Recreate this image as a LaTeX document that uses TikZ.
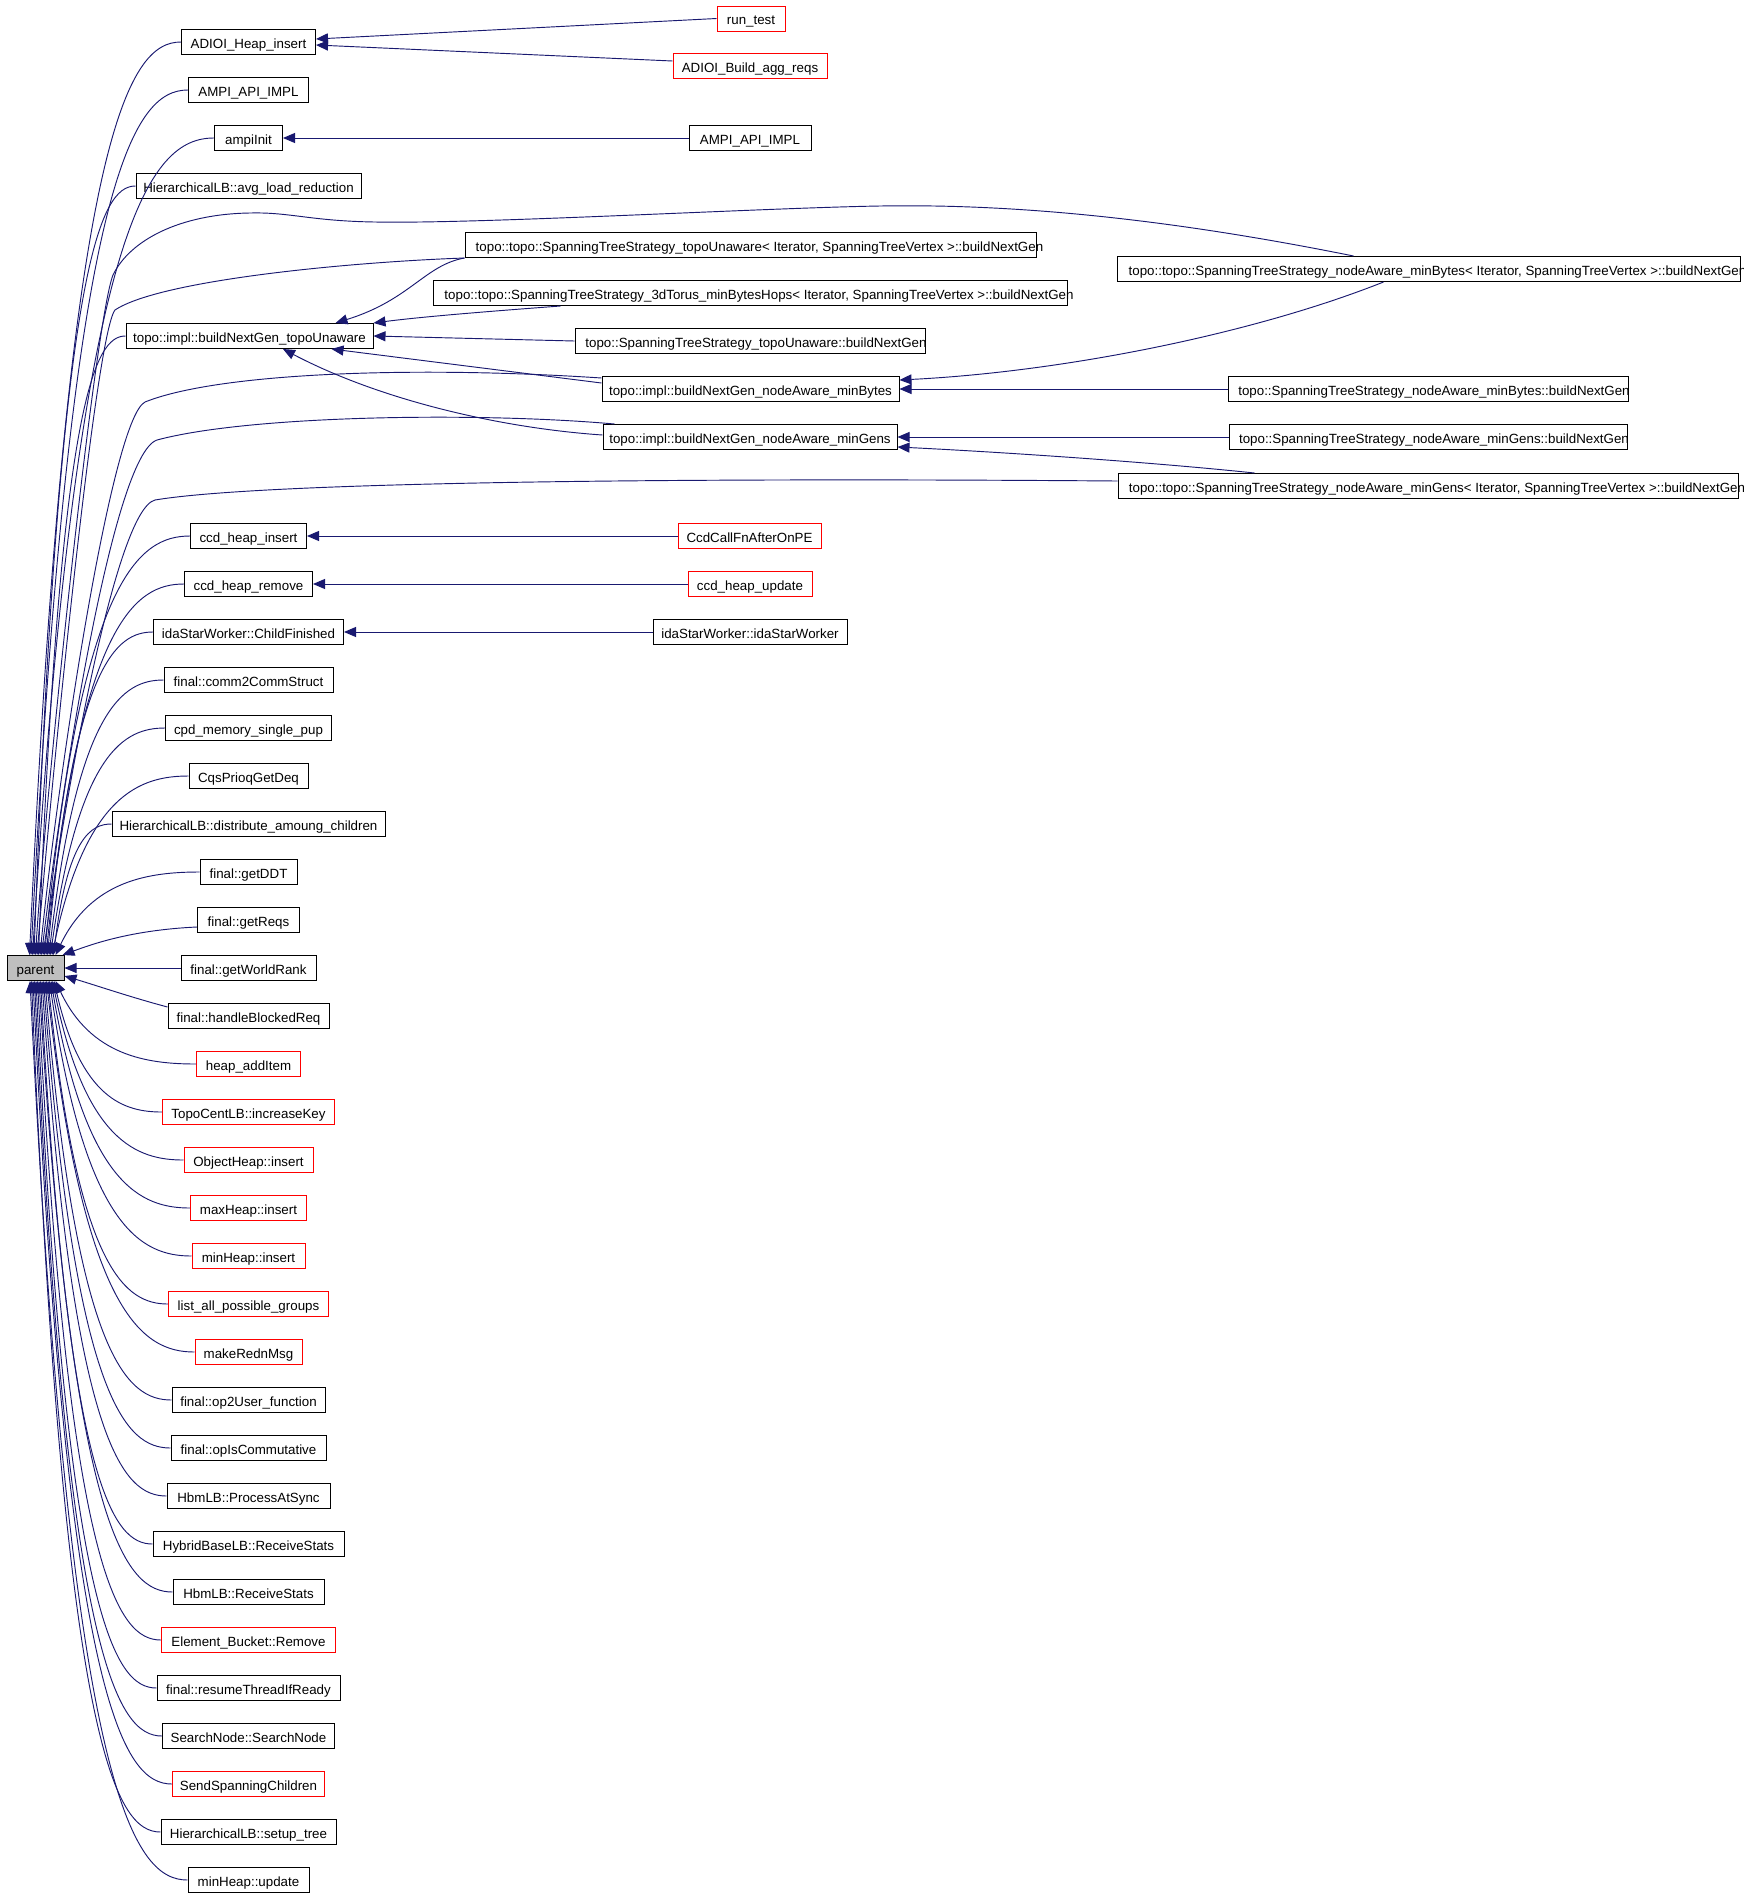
\documentclass[tikz,border=0pt]{standalone}
\usepackage{fontspec}
\setmainfont{Liberation Sans}
\usetikzlibrary{arrows.meta,calc}
\definecolor{edgeblue}{RGB}{25,25,112}
\definecolor{pgray}{RGB}{191,191,191}
\begin{document}
\begin{tikzpicture}[x=0.75pt,y=-0.75pt,
  fn/.style={draw=black, line width=0.75pt, minimum height=18.75pt, inner xsep=0pt, inner ysep=0pt, text height=9.1pt, text depth=0pt, font=\fontsize{10}{12}\selectfont},
  rn/.style={fn, draw=red},
  bw/.style={minimum width=#1*0.75pt},
  edge/.style={draw=edgeblue, line width=0.7pt, -{Triangle[length=9pt,width=7.5pt]}}]
\fill[white] (0,0) rectangle (1744,1896);
\useasboundingbox (0,0) rectangle (1744,1896);
% parent
\node[fn,bw=57,fill=pgray] (parent) at (35.5,968) {parent};
% left column
\node[fn,bw=134] (adh) at (248.5,42) {ADIOI\_Heap\_insert};
\node[fn,bw=120] (amp1) at (248.5,90) {AMPI\_API\_IMPL};
\node[fn,bw=68] (ampi) at (248.5,138) {ampiInit};
\node[fn,bw=225] (avg) at (248.5,186) {HierarchicalLB::avg\_load\_reduction};
\node[fn,bw=247] (tu) at (249.5,336) {topo::impl::buildNextGen\_topoUnaware};
\node[fn,bw=116] (chi) at (248.5,536) {ccd\_heap\_insert};
\node[fn,bw=128] (chr) at (248.5,584) {ccd\_heap\_remove};
\node[fn,bw=190] (icf) at (248.5,632) {idaStarWorker::ChildFinished};
\node[fn,bw=169] (c2c) at (248.5,680) {final::comm2CommStruct};
\node[fn,bw=166] (cpd) at (248.5,728) {cpd\_memory\_single\_pup};
\node[fn,bw=119] (cqs) at (248.5,776) {CqsPrioqGetDeq};
\node[fn,bw=273] (dac) at (248.5,824) {HierarchicalLB::distribute\_amoung\_children};
\node[fn,bw=97] (gdd) at (248.5,872) {final::getDDT};
\node[fn,bw=102] (grq) at (248.5,920) {final::getReqs};
\node[fn,bw=135] (gwr) at (248.5,968) {final::getWorldRank};
\node[fn,bw=161] (hbr) at (248.5,1016) {final::handleBlockedReq};
\node[rn,bw=104] (hai) at (248.5,1064) {heap\_addItem};
\node[rn,bw=172] (tck) at (248.5,1112) {TopoCentLB::increaseKey};
\node[rn,bw=129] (ohi) at (248.5,1160) {ObjectHeap::insert};
\node[rn,bw=116] (mxi) at (248.5,1208) {maxHeap::insert};
\node[rn,bw=113] (mni) at (248.5,1256) {minHeap::insert};
\node[rn,bw=160] (lap) at (248.5,1304) {list\_all\_possible\_groups};
\node[rn,bw=107] (mrm) at (248.5,1352) {makeRednMsg};
\node[fn,bw=153] (o2u) at (248.5,1400) {final::op2User\_function};
\node[fn,bw=155] (oic) at (248.5,1448) {final::opIsCommutative};
\node[fn,bw=163] (pas) at (248.5,1496) {HbmLB::ProcessAtSync};
\node[fn,bw=191] (hrs) at (248.5,1544) {HybridBaseLB::ReceiveStats};
\node[fn,bw=151] (brs) at (248.5,1592) {HbmLB::ReceiveStats};
\node[rn,bw=174] (ebr) at (248.5,1640) {Element\_Bucket::Remove};
\node[fn,bw=183] (rtr) at (248.5,1688) {final::resumeThreadIfReady};
\node[fn,bw=172] (sns) at (248.5,1736) {SearchNode::SearchNode};
\node[rn,bw=152] (ssc) at (248.5,1784) {SendSpanningChildren};
\node[fn,bw=175] (stt) at (248.5,1832) {HierarchicalLB::setup\_tree};
\node[fn,bw=121] (mhu) at (248.5,1880) {minHeap::update};
% middle column
\node[rn,bw=68] (rt) at (751,18.5) {run\_test};
\node[rn,bw=154] (bar) at (750,66) {ADIOI\_Build\_agg\_reqs};
\node[fn,bw=122] (amp2) at (750,138) {AMPI\_API\_IMPL};
\node[fn,bw=571] (tut) at (750.5,245) {\makebox[0pt]{\hspace*{13.5pt}topo::topo::SpanningTreeStrategy\_topoUnaware< Iterator, SpanningTreeVertex >::buildNextGen}};
\node[fn,bw=634] (t3d) at (750,293) {\makebox[0pt]{\hspace*{13.5pt}topo::topo::SpanningTreeStrategy\_3dTorus\_minBytesHops< Iterator, SpanningTreeVertex >::buildNextGen}};
\node[fn,bw=350] (stu) at (750,341) {\makebox[0pt]{\hspace*{9pt}topo::SpanningTreeStrategy\_topoUnaware::buildNextGen}};
\node[fn,bw=297] (nmb) at (750.5,389) {topo::impl::buildNextGen\_nodeAware\_minBytes};
\node[fn,bw=294] (nmg) at (750,437) {topo::impl::buildNextGen\_nodeAware\_minGens};
\node[rn,bw=143] (ccf) at (749.5,536) {CcdCallFnAfterOnPE};
\node[rn,bw=124] (chu) at (750,584) {ccd\_heap\_update};
\node[fn,bw=194] (isw) at (750,632) {idaStarWorker::idaStarWorker};
% right column
\node[fn,bw=623] (smbt) at (1428.5,269) {\makebox[0pt]{\hspace*{13.5pt}topo::topo::SpanningTreeStrategy\_nodeAware\_minBytes< Iterator, SpanningTreeVertex >::buildNextGen}};
\node[fn,bw=400] (smb) at (1428,389) {\makebox[0pt]{\hspace*{9pt}topo::SpanningTreeStrategy\_nodeAware\_minBytes::buildNextGen}};
\node[fn,bw=398] (smg) at (1428,437) {\makebox[0pt]{\hspace*{9pt}topo::SpanningTreeStrategy\_nodeAware\_minGens::buildNextGen}};
\node[fn,bw=620] (smgt) at (1428,486) {\makebox[0pt]{\hspace*{13.5pt}topo::topo::SpanningTreeStrategy\_nodeAware\_minGens< Iterator, SpanningTreeVertex >::buildNextGen}};
% edges into parent from above
\foreach \nd/\ex in {adh/30,amp1/31.5,ampi/33,avg/34.5,tu/39,chi/45,chr/46.5,icf/48,c2c/49.5,cpd/51,cqs/52.5,dac/54,gdd/56}
  \draw[edge] let \p1=(\nd.west), \p2=($(parent.north west)+(\ex-7,0)$) in
    (\p1) .. controls ({\x1-0.35*(\x1-\x2)},\y1) and ({\x2+0.25*(\x1-\x2)},{\y1+0.1*(\y2-\y1)}) .. (\p2);
% edges into parent from below
\foreach \nd/\ex in {hai/56,tck/54.5,ohi/53,mxi/51.5,mni/50,lap/48.5,mrm/47,o2u/45.5,oic/44,pas/42.5,hrs/41,brs/39.5,ebr/38,rtr/36.5,sns/35,ssc/33.5,stt/32,mhu/30.5}
  \draw[edge] let \p1=(\nd.west), \p2=($(parent.south west)+(\ex-7,0)$) in
    (\p1) .. controls ({\x1-0.35*(\x1-\x2)},\y1) and ({\x2+0.25*(\x1-\x2)},{\y1+0.1*(\y2-\y1)}) .. (\p2);
% side edges into parent
\draw[edge] ($(grq.west)+(0,7)$) .. controls (130,930) and (90,945) .. ($(parent.north east)+(-2,0)$);
\draw[edge] (gwr.west) -- (parent.east);
\draw[edge] ($(hbr.west)+(0,-9)$) .. controls (130,997) and (95,985) .. ($(parent.east)+(0,8)$);
% long edges into parent
\draw[edge] ($(smbt.north)+(-75,0)$) .. controls (1150,215) and (1000,204) .. (880,206) .. controls (760,208) and (480,224) .. (375,222) .. controls (310,221) and (290,212) .. (250,213) .. controls (180,214) and (130,240) .. (113,275) .. controls (95,320) and (45,800) .. ($(parent.north west)+(29,0)$);
\draw[edge] (tut.south west) .. controls (350,262) and (160,280) .. (115,310) .. controls (95,335) and (50,800) .. ($(parent.north west)+(30.5,0)$);
\draw[edge] ($(nmb.west)+(0,-11)$) .. controls (420,366) and (220,372) .. (145,402) .. controls (110,420) and (55,800) .. ($(parent.north west)+(33.5,0)$);
\draw[edge] ($(nmg.north west)+(12,0)$) .. controls (480,412) and (250,415) .. (157,440) .. controls (112,455) and (60,800) .. ($(parent.north west)+(35,0)$);
\draw[edge] ($(smgt.west)+(0,-5)$) .. controls (600,477) and (250,484) .. (155,500) .. controls (115,510) and (65,800) .. ($(parent.north west)+(36.5,0)$);
% edges into buildNextGen_topoUnaware
\draw[edge] (tut.south west) .. controls (425,265) and (410,300) .. ($(tu.north)+(86,0)$);
\draw[edge] ($(t3d.south west)+(128,0)$) .. controls (480,312) and (420,317) .. (tu.north east);
\draw[edge] (stu.west) -- (tu.east);
\draw[edge] ($(nmb.west)+(0,-6)$) -- ($(tu.south east)+(-42,0)$);
\draw[edge] ($(nmg.west)+(0,-2)$) .. controls (500,428) and (380,400) .. ($(tu.south)+(33.5,0)$);
% edges into minBytes / minGens
\draw[edge] ($(smbt.south west)+(267,0)$) .. controls (1250,335) and (1060,372) .. ($(nmb.east)+(0,-9)$);
\draw[edge] (smb.west) -- (nmb.east);
\draw[edge] (smg.west) -- (nmg.east);
\draw[edge] ($(smgt.north west)+(137,0)$) .. controls (1150,462) and (1000,452) .. ($(nmg.east)+(0,10)$);
% small edges
\draw[edge] (rt.west) -- ($(adh.east)+(0,-3)$);
\draw[edge] ($(bar.west)+(0,-5)$) -- ($(adh.east)+(0,3)$);
\draw[edge] (amp2.west) -- (ampi.east);
\draw[edge] (ccf.west) -- (chi.east);
\draw[edge] (chu.west) -- (chr.east);
\draw[edge] (isw.west) -- (icf.east);
\end{tikzpicture}
\end{document}
